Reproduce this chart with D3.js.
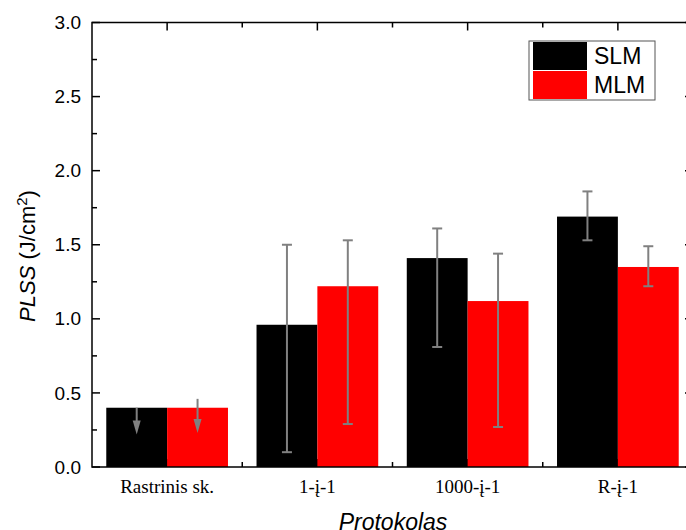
<!DOCTYPE html>
<html>
<head>
<meta charset="utf-8">
<script src="https://cdn.jsdelivr.net/npm/d3@7"></script>
<style>
  body { margin: 0; background: #fff; }
  svg { display: block; }
</style>
</head>
<body>
<script>
// Data
var categories = ["Rastrinis sk.", "1-į-1", "1000-į-1", "R-į-1"];
var series = ["SLM", "MLM"];
var colors = ["#000000", "#ff0000"];
var slm = [0.40, 0.96, 1.41, 1.69];
var mlm = [0.40, 1.22, 1.12, 1.35];
var slmLow = [0.22, 0.10, 0.81, 1.53];
var slmHigh = [0.40, 1.50, 1.61, 1.86];
var mlmLow = [0.23, 0.29, 0.27, 1.22];
var mlmHigh = [0.46, 1.53, 1.44, 1.49];
var arrowOnly = [true, false, false, false];   // first group drawn as down arrows
var yTicks = [0, 0.5, 1.0, 1.5, 2.0, 2.5, 3.0];

// plot box (note: "top" is reserved on window, so use px* names)
var W = 686, H = 530,
	pxL = 92, pxR = 693, pxT = 22.5, pxB = 467;

var rows = categories.map(function(c, i) {
	return [
		{cat: c, s: 0, v: slm[i], lo: slmLow[i], hi: slmHigh[i], arrow: arrowOnly[i]},
		{cat: c, s: 1, v: mlm[i], lo: mlmLow[i], hi: mlmHigh[i], arrow: arrowOnly[i]}
	];
});

var svg = d3.select("body").append("svg")
	.attr("width", W)
	.attr("height", H);

var x = d3.scaleBand()
	.domain(categories)
	.range([pxL, pxR])
	.paddingInner(0.19)
	.paddingOuter(0.095);

var xs = d3.scaleBand()
	.domain([0, 1])
	.range([0, x.bandwidth()]);

var y = d3.scaleLinear()
	.domain([0, 3])
	.range([pxB, pxT]);

// X ticks: major at centres, minor at boundaries (drawn first, bars cover bottom ones)
var centres = categories.map(function(c) { return x(c) + x.bandwidth() / 2; });
var bounds = categories.slice(1).map(function(c) { return x(c) - x.step() * x.paddingInner() / 2; });
[[pxB, -1], [pxT, 1]].forEach(function(p) {
	svg.append("g").selectAll("line")
		.data(centres.map(function(v) { return [v, 8]; }).concat(bounds.map(function(v) { return [v, 5]; })))
		.enter().append("line")
		.attr("x1", function(d) { return d[0]; })
		.attr("x2", function(d) { return d[0]; })
		.attr("y1", p[0])
		.attr("y2", function(d) { return p[0] + p[1] * d[1]; })
		.attr("stroke", "#000")
		.attr("stroke-width", 1.5);
});

// Bars
var groups = svg.append("g").selectAll("g")
	.data(rows)
	.enter().append("g")
	.attr("transform", function(d) { return "translate(" + x(d[0].cat) + ",0)"; });

groups.selectAll("rect")
	.data(function(d) { return d; })
	.enter().append("rect")
	.attr("x", function(d) { return xs(d.s); })
	.attr("y", function(d) { return y(d.v); })
	.attr("width", xs.bandwidth())
	.attr("height", function(d) { return y(0) - y(d.v); })
	.attr("fill", function(d) { return colors[d.s]; });

// Error bars
var err = groups.selectAll("g.err")
	.data(function(d) { return d; })
	.enter().append("g")
	.attr("class", "err")
	.attr("transform", function(d) { return "translate(" + (xs(d.s) + xs.bandwidth() / 2) + ",0)"; });

err.append("line")
	.attr("x1", 0).attr("x2", 0)
	.attr("y1", function(d) { return y(d.hi); })
	.attr("y2", function(d) { return d.arrow ? y(d.lo) - 12 : y(d.lo); })
	.attr("stroke", "#808080")
	.attr("stroke-width", 2);

err.filter(function(d) { return !d.arrow; }).selectAll("line.cap")
	.data(function(d) { return [d.lo, d.hi]; })
	.enter().append("line")
	.attr("class", "cap")
	.attr("x1", -5).attr("x2", 5)
	.attr("y1", function(v) { return y(v); })
	.attr("y2", function(v) { return y(v); })
	.attr("stroke", "#808080")
	.attr("stroke-width", 2);

err.filter(function(d) { return d.arrow; }).append("path")
	.attr("d", function(d) {
		var t = y(d.lo);
		return "M-4," + (t - 14) + "L4," + (t - 14) + "L0," + t + "Z";
	})
	.attr("fill", "#808080");

// Frame
svg.append("rect")
	.attr("x", pxL)
	.attr("y", pxT)
	.attr("width", pxR - pxL)
	.attr("height", pxB - pxT)
	.attr("fill", "none")
	.attr("stroke", "#000")
	.attr("stroke-width", 1.5);

// Y ticks (inward), left and right
var yMinor = d3.range(0.25, 3, 0.5);
[pxL, pxR].forEach(function(ax) {
	var dir = ax === pxL ? 1 : -1;
	svg.append("g").selectAll("line")
		.data(yTicks.concat(yMinor))
		.enter().append("line")
		.attr("x1", ax)
		.attr("x2", function(d) { return ax + dir * (yTicks.indexOf(d) >= 0 ? 8 : 5); })
		.attr("y1", function(d) { return y(d); })
		.attr("y2", function(d) { return y(d); })
		.attr("stroke", "#000")
		.attr("stroke-width", 1.5);
});

svg.append("g").selectAll("text")
	.data(yTicks)
	.enter().append("text")
	.text(function(d) { return d3.format(".1f")(d); })
	.attr("x", pxL - 11)
	.attr("y", function(d) { return y(d); })
	.attr("dy", "0.35em")
	.attr("text-anchor", "end")
	.attr("font-family", "Liberation Sans, Arial, sans-serif")
	.attr("font-size", "19px")
	.attr("fill", "#000");

svg.append("g").selectAll("text")
	.data(categories)
	.enter().append("text")
	.text(function(d) { return d; })
	.attr("x", function(d) { return x(d) + x.bandwidth() / 2; })
	.attr("y", 493)
	.attr("text-anchor", "middle")
	.attr("font-family", "Liberation Serif, Times New Roman, serif")
	.attr("font-size", "19px")
	.attr("fill", "#000");

// Axis titles
svg.append("text")
	.text("Protokolas")
	.attr("x", 393)
	.attr("y", 529.5)
	.attr("text-anchor", "middle")
	.attr("font-family", "Liberation Sans, Arial, sans-serif")
	.attr("font-style", "italic")
	.attr("font-size", "23px");

var yl = svg.append("text")
	.attr("transform", "translate(35,256) rotate(-90)")
	.attr("text-anchor", "middle")
	.attr("font-family", "Liberation Sans, Arial, sans-serif")
	.attr("font-size", "22px");
yl.append("tspan").attr("font-style", "italic").text("PLSS");
yl.append("tspan").text(" (J/cm");
yl.append("tspan").attr("font-size", "15px").attr("baseline-shift", "super").text("2");
yl.append("tspan").text(")");

// Legend
var lg = svg.append("g");
lg.append("rect")
	.attr("x", 529).attr("y", 41)
	.attr("width", 126).attr("height", 59)
	.attr("fill", "#fff")
	.attr("stroke", "#555")
	.attr("stroke-width", 1);
lg.selectAll("rect.sw")
	.data(series)
	.enter().append("rect")
	.attr("class", "sw")
	.attr("x", 533)
	.attr("y", function(d, i) { return 42 + i * 29; })
	.attr("width", 54)
	.attr("height", 28)
	.attr("fill", function(d, i) { return colors[i]; });
lg.selectAll("text")
	.data(series)
	.enter().append("text")
	.text(function(d) { return d; })
	.attr("x", 594)
	.attr("y", function(d, i) { return 64 + i * 29; })
	.attr("font-family", "Liberation Sans, Arial, sans-serif")
	.attr("font-size", "23px")
	.attr("fill", "#000");
</script>
</body>
</html>
